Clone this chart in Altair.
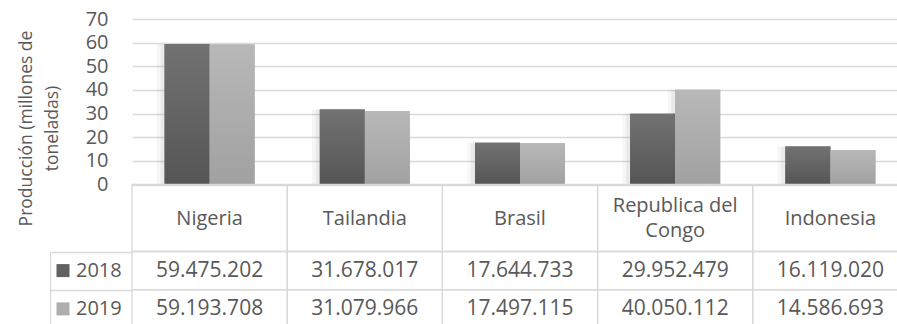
import altair as alt
import pandas as pd

# Producción por país (toneladas)
paises = ["Nigeria", "Tailandia", "Brasil", "Republica del Congo", "Indonesia"]
anios = ["2018", "2019"]
toneladas_2018 = [59475202, 31678017, 17644733, 29952479, 16119020]
toneladas_2019 = [59193708, 31079966, 17497115, 40050112, 14586693]
marcas_y = [0, 10, 20, 30, 40, 50, 60, 70]

filas = []
for anio, serie in zip(anios, [toneladas_2018, toneladas_2019]):
    for pais, t in zip(paises, serie):
        filas.append({
            "pais": pais,
            "anio": anio,
            "toneladas": t,
            "millones": t / 1e6,
            "etiqueta": f"{t:,}".replace(",", "."),
        })
df = pd.DataFrame(filas)
encabezado = pd.DataFrame({"pais": paises, "fila": ["encabezado"] * len(paises)})

GRIS_TEXTO = "#595959"
GRIS_LINEA = "#d9d9d9"
FUENTE = "Open Sans"

ANCHO, ALTO = 765, 165.5

# columnas de la tabla: 155 px por país, la última sale del lienzo
escala_x = alt.Scale(domain=paises, range=[0, 776], paddingInner=0.42, paddingOuter=0.21)
ANCHO_CELDA = 1 / 0.58  # celda completa respecto al ancho del grupo de barras

# el nombre largo va en dos líneas, subido media línea para quedar centrado
es_congo = "datum.label == 'Republica del Congo'"
eje_x = alt.Axis(
    orient="bottom", title=None, grid=False,
    domain=True, domainColor=GRIS_LINEA, domainWidth=1.6,
    ticks=False,
    labelAngle=0, labelFont=FUENTE, labelFontSize=20, labelColor=GRIS_TEXTO,
    labelPadding={"condition": {"test": es_congo, "value": 20.5}, "value": 33.5},
    labelBaseline="middle", labelLineHeight=25.5, labelLimit=300,
    labelExpr=es_congo + " ? ['Republica del', 'Congo'] : datum.label",
)
x_pais = alt.X("pais:N", scale=escala_x, axis=eje_x)
x_anio = alt.XOffset("anio:N", scale=alt.Scale(domain=anios, paddingInner=0, paddingOuter=0))

escala_y = alt.Scale(domain=[0, 70], nice=False, zero=True)
eje_y = alt.Axis(
    orient="left", values=marcas_y, grid=True, gridColor=GRIS_LINEA, gridWidth=1.3,
    domain=False, ticks=False,
    labelFont=FUENTE, labelFontSize=20, labelColor=GRIS_TEXTO, labelPadding=24,
    title=["Producción (millones de", "toneladas)"],
    titleFont=FUENTE, titleFontSize=17.5, titleFontWeight="normal", titleColor=GRIS_TEXTO,
    titleAngle=270, titleAlign="center", titleBaseline="middle", titleLineHeight=26,
    titleX=-106, titleY=109,
)

leyenda = alt.Legend(
    orient="none", legendX=-79, legendY=241.6, title=None, direction="vertical",
    symbolType="square", symbolSize=169, symbolStrokeWidth=0, symbolOpacity=1,
    labelFont=FUENTE, labelFontSize=20, labelColor=GRIS_TEXTO, labelOffset=3,
    rowPadding=18.3, padding=0,
)


# sombra difusa detrás de las barras
def capa_sombra(ancho, opacidad):
    return alt.Chart(df).mark_bar(
        color="#7f7f7f", opacity=opacidad, width=alt.RelativeBandSize(ancho)
    ).encode(
        x=x_pais,
        xOffset=x_anio,
        y=alt.Y("millones:Q", scale=escala_y, axis=None),
    )


sombra_1 = capa_sombra(1.17, 0.07)
sombra_2 = capa_sombra(1.09, 0.09)

# barras base (dan la leyenda)
barras = alt.Chart(df).mark_bar().encode(
    x=x_pais,
    xOffset=x_anio,
    y=alt.Y("millones:Q", scale=escala_y, axis=eje_y),
    color=alt.Color("anio:N", scale=alt.Scale(domain=anios, range=["#616161", "#aeaeae"]),
                    legend=leyenda),
)


def degradado(arriba, abajo):
    return alt.Gradient(
        gradient="linear", x1=0, x2=0, y1=0, y2=1,
        stops=[alt.GradientStop(color=arriba, offset=0),
               alt.GradientStop(color=abajo, offset=1)],
    )


def capa_degradado(anio, arriba, abajo):
    return alt.Chart(df).transform_filter(alt.datum.anio == anio).mark_bar(
        color=degradado(arriba, abajo)
    ).encode(
        x=x_pais,
        xOffset=x_anio,
        y=alt.Y("millones:Q", scale=escala_y, axis=None),
    )


barras_2018 = capa_degradado("2018", "#727272", "#555555")
barras_2019 = capa_degradado("2019", "#b8b8b8", "#a1a1a1")

# tabla de datos bajo el gráfico
escala_encabezado = alt.Scale(domain=["encabezado"], range=[165.5, 232.5],
                              paddingInner=0, paddingOuter=0)
escala_filas = alt.Scale(domain=anios, range=[232.5, 309.1], paddingInner=0, paddingOuter=0)

celdas_encabezado = alt.Chart(encabezado).mark_rect(
    fillOpacity=0, stroke=GRIS_LINEA, strokeWidth=1.3, width=alt.RelativeBandSize(ANCHO_CELDA)
).encode(
    x=x_pais,
    y=alt.Y("fila:N", scale=escala_encabezado, axis=None),
)

celdas_filas = alt.Chart(df).mark_rect(
    fillOpacity=0, stroke=GRIS_LINEA, strokeWidth=1.3, width=alt.RelativeBandSize(ANCHO_CELDA)
).encode(
    x=x_pais,
    y=alt.Y("anio:N", scale=escala_filas, axis=None),
)

tabla = alt.Chart(df).mark_text(
    font=FUENTE, fontSize=21, color=GRIS_TEXTO, align="center", baseline="middle"
).encode(
    x=x_pais,
    y=alt.Y("anio:N", scale=escala_filas, axis=alt.Axis(
        orient="left", title=None, labels=False, grid=False,
        ticks=True, tickBand="extent", tickSize=82, tickColor=GRIS_LINEA, tickWidth=1.3,
        domain=False,
    )),
    text="etiqueta:N",
)

# borde izquierdo de la columna de leyenda
borde = alt.Chart(df).mark_text(opacity=0).encode(
    x=x_pais,
    y=alt.Y("anio:N", scale=escala_filas, axis=alt.Axis(
        orient="left", offset=82, title=None, labels=False, grid=False, ticks=False,
        domain=True, domainColor=GRIS_LINEA, domainWidth=1.3,
    )),
    text="etiqueta:N",
)

chart = alt.layer(
    sombra_1, sombra_2, barras, barras_2018, barras_2019,
    celdas_encabezado, celdas_filas, tabla, borde,
).resolve_scale(
    y="independent"
).properties(
    width=ANCHO,
    height=ALTO,
    autosize=alt.AutoSizeParams(type="none"),
    padding={"left": 132, "top": 19, "right": 0, "bottom": 139.5},
    background="white",
).configure_view(stroke=None)

chart.save("out.html", embed_options={"renderer": "svg", "actions": False})
